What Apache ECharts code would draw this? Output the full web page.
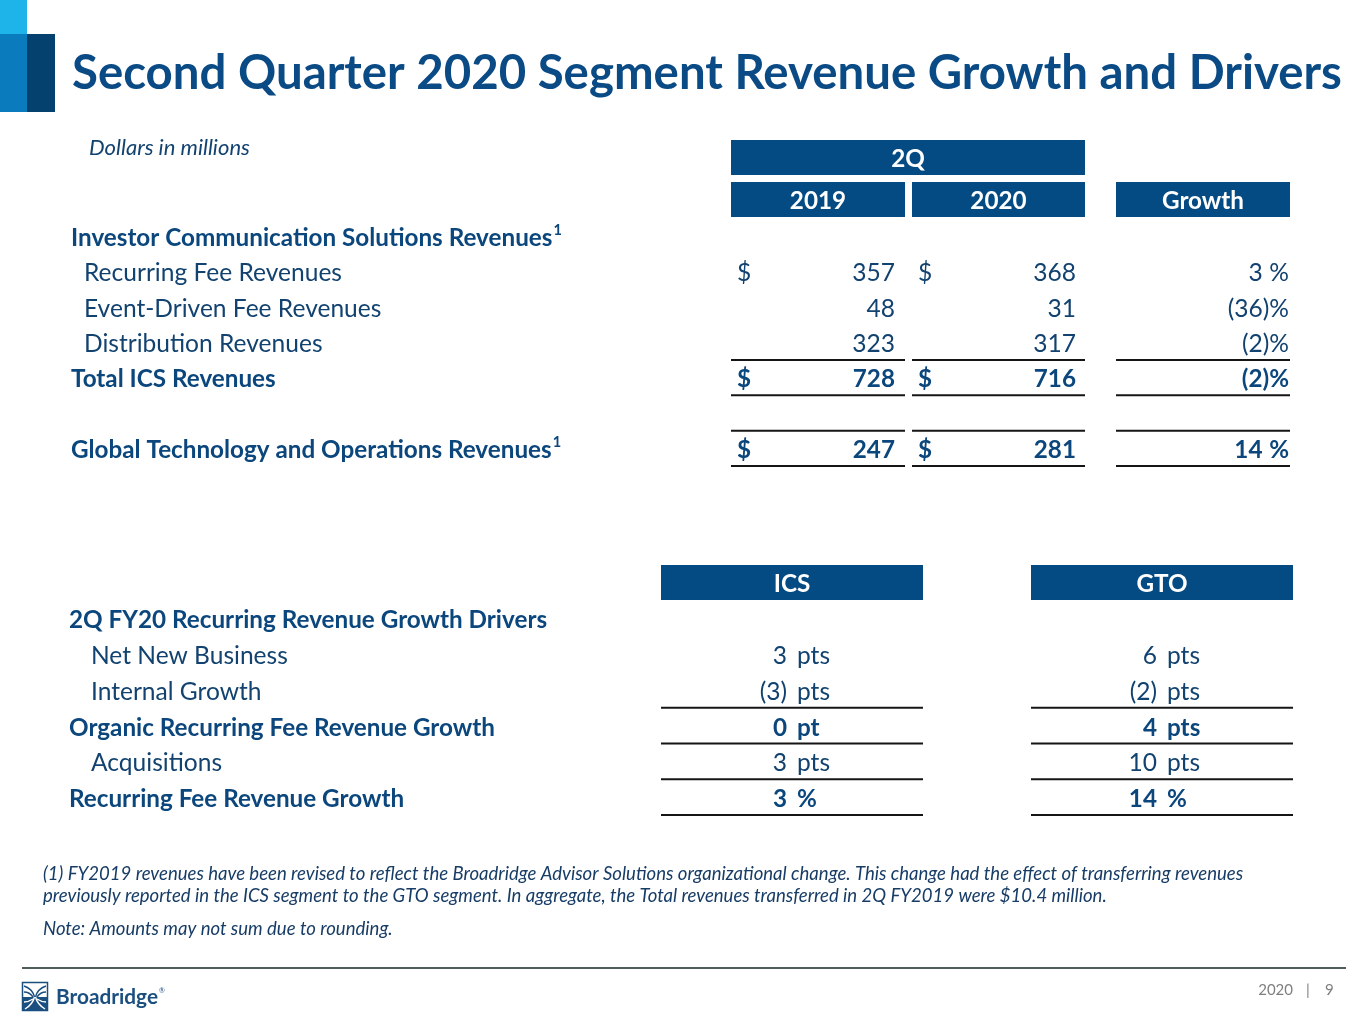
<!DOCTYPE html>
<html><head><meta charset="utf-8">
<script src="https://cdn.jsdelivr.net/npm/echarts@6/dist/echarts.min.js"></script>
<style>html,body{margin:0;padding:0;background:#fff}#main{width:1365px;height:1024px}</style>
</head><body><div id="main"></div>
<script>
// ---------------- DATA ----------------
const chartTitle = 'Second Quarter 2020 Segment Revenue Growth and Drivers';
const unitNote = 'Dollars in millions';
const topGroupHeader = '2Q';
const topHeaders = ['2019', '2020', 'Growth'];
const topRowLabels = ['Investor Communication Solutions Revenues', 'Recurring Fee Revenues', 'Event-Driven Fee Revenues', 'Distribution Revenues', 'Total ICS Revenues', '', 'Global Technology and Operations Revenues'];
const rev2019 = [null, 357, 48, 323, 728, null, 247];
const rev2020 = [null, 368, 31, 317, 716, null, 281];
const revGrowthPct = [null, 3, -36, -2, -2, null, 14];

const driverHeaders = ['ICS', 'GTO'];
const driverRowLabels = ['2Q FY20 Recurring Revenue Growth Drivers', 'Net New Business', 'Internal Growth', 'Organic Recurring Fee Revenue Growth', 'Acquisitions', 'Recurring Fee Revenue Growth'];
const icsPts = [null, 3, -3, 0, 3, 3];
const gtoPts = [null, 6, -2, 4, 10, 14];

const footnoteLines = [
  '(1) FY2019 revenues have been revised to reflect the Broadridge Advisor Solutions organizational change. This change had the effect of transferring revenues',
  'previously reported in the ICS segment to the GTO segment. In aggregate, the Total revenues transferred in 2Q FY2019 were $10.4 million.'
];
const noteText = 'Note: Amounts may not sum due to rounding.';
const footerYear = '2020';
const footerPage = '9';

// ---------------- STYLE / LAYOUT ----------------
const FAMILY = 'Lato, "Open Sans", sans-serif';
const TITLE_C = '#0A4A85';
const TEXT_C = '#12426F';
const BOLD_C = '#0B467C';
const HEAD_FILL = '#044B83';
const RULE_C = '#151515';
const LOGO_C = '#1B4F80';
const TEXT_DY = 2;
const mctx = document.createElement('canvas').getContext('2d');
function fontStr(size, bold, italic) { return (italic ? 'italic ' : '') + (bold ? 'bold ' : '') + size.toFixed(2) + 'px ' + FAMILY; }
function measure(t, size, bold, italic) { mctx.font = fontStr(size, bold, italic); return mctx.measureText(t).width; }
function fitSize(t, target, bold, italic) { return 100 * target / measure(t, 100, bold, italic); }

const SZ_REG = fitSize('Recurring Fee Revenues', 258, false, false);
const SZ_BOLD = fitSize('2Q FY20 Recurring Revenue Growth Drivers', 478, true, false);
const SZ_TITLE = fitSize(chartTitle, 1270, true, false);
const SZ_NOTE = fitSize(footnoteLines[0], 1201, false, true);
const SZ_UNIT = fitSize(unitNote, 161, false, true);
const SZ_LOGO = fitSize('Broadridge', 102, true, false);

// layout of top table (pixel units of the hidden x axis)
const topRowBold = [true, false, false, false, true, false, true];
const topRowNote = [true, false, false, false, false, false, true];
const topDollarRow = [false, true, false, false, true, false, true];
const colY19 = { box: [731, 905], dollar: 737, right: 895 };
const colY20 = { box: [912, 1085], dollar: 918, right: 1076 };
const colGr = { box: [1116, 1290], right: 1289 };
const topRules = [[3, 'bottom'], [4, 'bottom'], [6, 'top'], [6, 'bottom']];

const driverRowBold = [true, false, false, true, false, true];
const colIcs = { box: [661, 923], right: 787, unit: 797 };
const colGto = { box: [1031, 1293], right: 1157, unit: 1167 };
const driverRules = [2, 3, 4, 5];

// ---------------- CELLS ----------------
const topCells = [];
topCells.push({ kind: 'box', x: colY19.box[0], x1: colY20.box[1], row: 0, dy: -43, h: 35, text: topGroupHeader });
[colY19, colY20, colGr].forEach((c, i) => topCells.push({ kind: 'box', x: c.box[0], x1: c.box[1], row: 0, dy: -1, h: 35, text: topHeaders[i] }));
topRowLabels.forEach((lab, i) => {
  if (!lab) return;
  topCells.push({ kind: 'text', x: topRowBold[i] ? 71 : 84, row: i + 1, text: lab, bold: topRowBold[i], sup: topRowNote[i] ? '1' : null, align: 'left' });
});
[[rev2019, colY19], [rev2020, colY20]].forEach(([arr, col]) => {
  arr.forEach((v, i) => {
    if (v == null) return;
    topCells.push({ kind: 'text', x: col.right, row: i + 1, text: String(v), bold: topRowBold[i], align: 'right' });
    if (topDollarRow[i]) topCells.push({ kind: 'text', x: col.dollar, row: i + 1, text: '$', bold: topRowBold[i], align: 'left' });
  });
});
revGrowthPct.forEach((v, i) => {
  if (v == null) return;
  topCells.push({ kind: 'pct', x: colGr.right, row: i + 1, value: v, bold: topRowBold[i] });
});
topRules.forEach(([r, edge]) => {
  [colY19, colY20, colGr].forEach(c => topCells.push({ kind: 'rule', x: c.box[0], x1: c.box[1], row: r + 1, edge }));
});

const driverCells = [];
[colIcs, colGto].forEach((c, i) => driverCells.push({ kind: 'box', x: c.box[0], x1: c.box[1], row: 0, dy: 0, h: 35, text: driverHeaders[i] }));
driverRowLabels.forEach((lab, i) => {
  driverCells.push({ kind: 'text', x: driverRowBold[i] ? 69 : 91, row: i + 1, text: lab, bold: driverRowBold[i], align: 'left' });
});
[[icsPts, colIcs], [gtoPts, colGto]].forEach(([arr, col]) => {
  arr.forEach((v, i) => {
    if (v == null) return;
    const numTxt = v < 0 ? '(' + (-v) + ')' : String(v);
    const unit = i === arr.length - 1 ? '%' : (Math.abs(v) <= 1 ? 'pt' : 'pts');
    driverCells.push({ kind: 'text', x: col.right, row: i + 1, text: numTxt, bold: driverRowBold[i], align: 'right' });
    driverCells.push({ kind: 'text', x: col.unit, row: i + 1, text: unit, bold: driverRowBold[i], align: 'left' });
  });
});
driverRules.forEach(r => [colIcs, colGto].forEach(c => driverCells.push({ kind: 'rule', x: c.box[0], x1: c.box[1], row: r + 1, edge: 'bottom' })));

// ---------------- RENDER ----------------
function txt(x, y, t, size, bold, align, fill, italic) {
  return { type: 'text', style: { x, y: y + TEXT_DY, text: t, font: fontStr(size, bold, italic), fill, textAlign: align, textVerticalAlign: 'middle' } };
}
function makeRender(cells) {
  return function (params, api) {
    const c = cells[params.dataIndex];
    const row = api.value(1);
    const pt = api.coord([api.value(0), row]);
    const band = api.size([0, 1])[1];
    const top = pt[1] - band / 2, bottom = pt[1] + band / 2;
    const X = v => api.coord([v, row])[0];
    const ch = [];
    if (c.kind === 'box') {
      const x0 = X(c.x), x1 = X(c.x1), y0 = top + c.dy;
      ch.push({ type: 'rect', shape: { x: x0, y: y0, width: x1 - x0, height: c.h }, style: { fill: HEAD_FILL } });
      ch.push(txt((x0 + x1) / 2, y0 + c.h / 2, c.text, SZ_BOLD, true, 'center', '#fff'));
    } else if (c.kind === 'text') {
      const size = c.bold ? SZ_BOLD : SZ_REG;
      const col = c.bold ? BOLD_C : TEXT_C;
      ch.push(txt(pt[0], pt[1], c.text, size, c.bold, c.align, col));
      if (c.sup) {
        const w = measure(c.text, size, c.bold);
        ch.push(txt(pt[0] + w + 1, pt[1] - 8, c.sup, size * 0.6, true, 'left', col));
      }
    } else if (c.kind === 'pct') {
      const size = c.bold ? SZ_BOLD : SZ_REG;
      const col = c.bold ? BOLD_C : TEXT_C;
      const pw = measure('%', size, c.bold), paren = measure(')', size, c.bold);
      ch.push(txt(pt[0], pt[1], '%', size, c.bold, 'right', col));
      if (c.value < 0) ch.push(txt(pt[0] - pw, pt[1], '(' + (-c.value) + ')', size, c.bold, 'right', col));
      else ch.push(txt(pt[0] - pw - paren, pt[1], String(c.value), size, c.bold, 'right', col));
    } else if (c.kind === 'rule') {
      const y = c.edge === 'top' ? top : bottom;
      ch.push({ type: 'line', shape: { x1: X(c.x), y1: y, x2: X(c.x1), y2: y }, style: { stroke: RULE_C, lineWidth: 2 } });
    }
    return { type: 'group', children: ch };
  };
}

function curve(x1, y1, c1x, c1y, c2x, c2y, x2, y2, stroke) {
  return { type: 'bezierCurve', shape: { x1, y1, cpx1: c1x, cpy1: c1y, cpx2: c2x, cpy2: c2y, x2, y2 }, style: { fill: null, stroke, lineWidth: 1.4 }, silent: true };
}

// ---------------- CHART ----------------
const chart = echarts.init(document.getElementById('main'), null, { renderer: 'canvas', width: 1365, height: 1024 });
const option = {
  backgroundColor: '#ffffff',
  animation: false,
  grid: [
    { left: 0, right: 0, top: 183, height: 283 },
    { left: 0, right: 0, top: 565, height: 250 }
  ],
  xAxis: [
    { type: 'value', gridIndex: 0, min: 0, max: 1365, show: false },
    { type: 'value', gridIndex: 1, min: 0, max: 1365, show: false }
  ],
  yAxis: [
    { type: 'category', gridIndex: 0, data: ['header'].concat(topRowLabels), inverse: true, show: false },
    { type: 'category', gridIndex: 1, data: ['header'].concat(driverRowLabels), inverse: true, show: false }
  ],
  series: [
    { type: 'custom', name: 'Segment revenues', xAxisIndex: 0, yAxisIndex: 0, clip: false, silent: true,
      encode: { x: 0, y: 1 }, data: topCells.map(c => [c.x, c.row]), renderItem: makeRender(topCells) },
    { type: 'custom', name: 'Growth drivers', xAxisIndex: 1, yAxisIndex: 1, clip: false, silent: true,
      encode: { x: 0, y: 1 }, data: driverCells.map(c => [c.x, c.row]), renderItem: makeRender(driverCells) }
  ],
  graphic: [
    { type: 'rect', shape: { x: 0, y: 0, width: 27, height: 34 }, style: { fill: '#1EB3E9' }, silent: true },
    { type: 'rect', shape: { x: 0, y: 34, width: 27, height: 78 }, style: { fill: '#0A7BBC' }, silent: true },
    { type: 'rect', shape: { x: 27, y: 34, width: 28, height: 78 }, style: { fill: '#05416F' }, silent: true },
    { type: 'text', style: { x: 72, y: 74, text: chartTitle, font: fontStr(SZ_TITLE, true), fill: TITLE_C, textAlign: 'left', textVerticalAlign: 'middle' }, silent: true },
    { type: 'text', style: { x: 89, y: 148, text: unitNote, font: fontStr(SZ_UNIT, false, true), fill: TEXT_C, textAlign: 'left', textVerticalAlign: 'middle' }, silent: true },
    { type: 'text', style: { x: 43, y: 874, text: footnoteLines[0], font: fontStr(SZ_NOTE, false, true), fill: '#173C66', textAlign: 'left', textVerticalAlign: 'middle' }, silent: true },
    { type: 'text', style: { x: 43, y: 896, text: footnoteLines[1], font: fontStr(SZ_NOTE, false, true), fill: '#173C66', textAlign: 'left', textVerticalAlign: 'middle' }, silent: true },
    { type: 'text', style: { x: 43, y: 929, text: noteText, font: fontStr(SZ_NOTE, false, true), fill: '#173C66', textAlign: 'left', textVerticalAlign: 'middle' }, silent: true },
    { type: 'line', shape: { x1: 22, y1: 968, x2: 1346, y2: 968 }, style: { stroke: '#4F5D5D', lineWidth: 2 }, silent: true },
    { type: 'text', style: { x: 1293, y: 990, text: footerYear, font: fontStr(15, false), fill: '#7F7F7F', textAlign: 'right', textVerticalAlign: 'middle' }, silent: true },
    { type: 'text', style: { x: 1308, y: 990, text: '|', font: fontStr(15, false), fill: '#7F7F7F', textAlign: 'center', textVerticalAlign: 'middle' }, silent: true },
    { type: 'text', style: { x: 1325, y: 990, text: footerPage, font: fontStr(15, false), fill: '#7F7F7F', textAlign: 'left', textVerticalAlign: 'middle' }, silent: true },
    // logo
    { type: 'rect', shape: { x: 22.5, y: 982.5, width: 25, height: 28 }, style: { fill: '#fff', stroke: LOGO_C, lineWidth: 1.5 }, silent: true },
    { type: 'rect', shape: { x: 22.5, y: 997, width: 25, height: 13.5 }, style: { fill: LOGO_C }, silent: true },
    curve(24, 986, 30, 988, 33, 991, 34.5, 997, LOGO_C),
    curve(46, 986, 40, 988, 37, 991, 35.5, 997, LOGO_C),
    curve(24, 992, 28, 992, 31, 994, 33, 997, LOGO_C),
    curve(46, 992, 42, 992, 39, 994, 37, 997, LOGO_C),
    curve(34.5, 997, 33, 1003, 30, 1006, 25, 1009, '#fff'),
    curve(35.5, 997, 37, 1003, 40, 1006, 45, 1009, '#fff'),
    curve(33, 999, 30, 1001, 27, 1002, 24, 1002, '#fff'),
    curve(37, 999, 40, 1001, 43, 1002, 46, 1002, '#fff'),
    { type: 'text', style: { x: 56, y: 997, text: 'Broadridge', font: fontStr(SZ_LOGO, true), fill: LOGO_C, textAlign: 'left', textVerticalAlign: 'middle' }, silent: true },
    { type: 'text', style: { x: 159, y: 991, text: '®', font: fontStr(7, false), fill: LOGO_C, textAlign: 'left', textVerticalAlign: 'middle' }, silent: true }
  ]
};
chart.setOption(option);
</script>
</body></html>
